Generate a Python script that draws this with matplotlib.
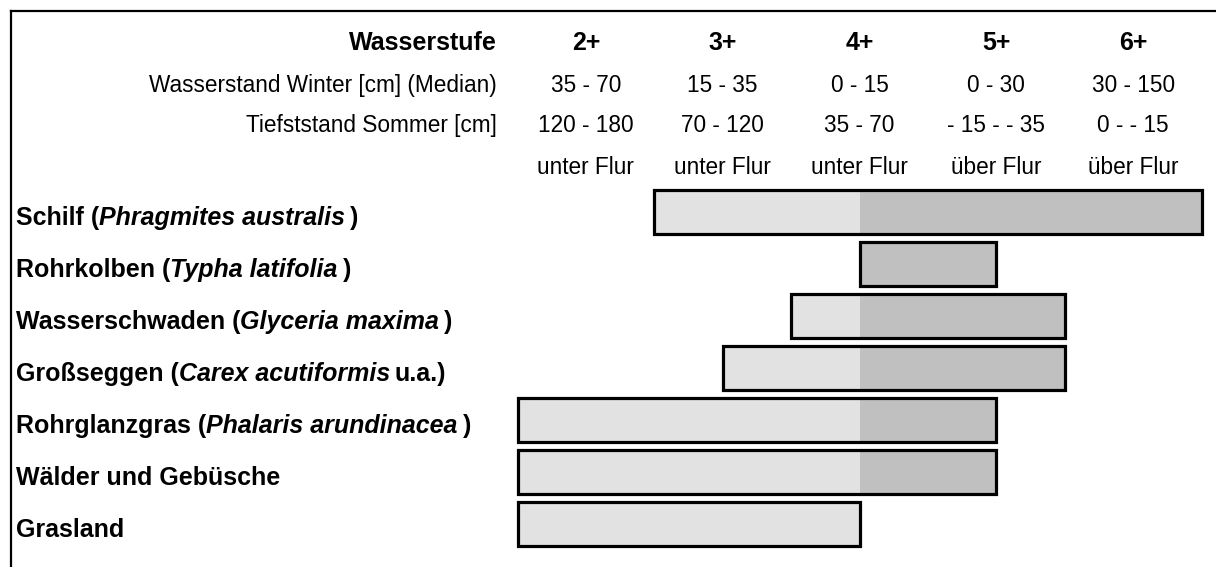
import matplotlib
matplotlib.use("Agg")
import matplotlib.pyplot as plt

plt.rcParams['font.family'] = ['Liberation Sans', 'DejaVu Sans']

# Kopfzeilen
stufen = ["2+", "3+", "4+", "5+", "6+"]
winter = ["35 - 70", "15 - 35", "0 - 15", "0 - 30", "30 - 150"]
sommer = ["120 - 180", "70 - 120", "35 - 70", "- 15 - - 35", "0 - - 15"]
flur = ["unter Flur", "unter Flur", "unter Flur", "über Flur", "über Flur"]
zeilen_titel = ["Wasserstufe", "Wasserstand Winter [cm] (Median)", "Tiefststand Sommer [cm]"]

# Vegetation: (normal, kursiv, rest)
arten = [
    ("Schilf (", "Phragmites australis", ")"),
    ("Rohrkolben (", "Typha latifolia", ")"),
    ("Wasserschwaden (", "Glyceria maxima", ")"),
    ("Großseggen (", "Carex acutiformis", "u.a.)"),
    ("Rohrglanzgras (", "Phalaris arundinacea", ")"),
    ("Wälder und Gebüsche", "", ""),
    ("Grasland", "", ""),
]
von = [3.0, 4.5, 4.0, 3.5, 2.0, 2.0, 2.0]    # Wasserstufe Beginn
bis = [7.0, 5.5, 6.0, 6.0, 5.5, 5.5, 4.5]    # Wasserstufe Ende
grenze = 4.5  # Wechsel hell -> dunkel

HELL = "#e2e2e2"
DUNKEL = "#c0c0c0"
FS = 16.3     # normal
FSB = 18      # fett

fig = plt.figure(figsize=(12.16, 5.67), dpi=100)
ax = fig.add_axes([0, 0, 1, 1])
px = 136.8  # pixel pro Stufe
ax.set_xlim(2 - 517.5 / px, 2 + (1216 - 517.5) / px)
ax.set_ylim((567 - 212) / 52, -212 / 52)
ax.axis("off")

# Rahmen oben + links
ax.plot([11 / 1216, 1], [1 - 11 / 567, 1 - 11 / 567], color="black", lw=1.6,
        transform=ax.transAxes, clip_on=False)
ax.plot([11 / 1216, 11 / 1216], [0, 1 - 11 / 567], color="black", lw=1.6,
        transform=ax.transAxes, clip_on=False)

# Kopf
kopf_y = [-3.25, -2.44, -1.67, -0.85]
titel_x = 2 + (497 - 517.5) / px
ax.text(titel_x, kopf_y[0], zeilen_titel[0], ha="right", va="center", fontsize=FSB, fontweight="bold")
ax.text(titel_x, kopf_y[1], zeilen_titel[1], ha="right", va="center", fontsize=FS)
ax.text(titel_x, kopf_y[2], zeilen_titel[2], ha="right", va="center", fontsize=FS)
for i in range(len(stufen)):
    xc = 2.5 + i
    ax.text(xc, kopf_y[0], stufen[i], ha="center", va="center", fontsize=FSB, fontweight="bold")
    ax.text(xc, kopf_y[1], winter[i], ha="center", va="center", fontsize=FS)
    ax.text(xc, kopf_y[2], sommer[i], ha="center", va="center", fontsize=FS)
    ax.text(xc, kopf_y[3], flur[i], ha="center", va="center", fontsize=FS)

# Balken
h = 0.83
for r in range(len(arten)):
    if von[r] < grenze:
        ax.barh(r, min(bis[r], grenze) - von[r], left=von[r], height=h, color=HELL, edgecolor="none")
    if bis[r] > grenze:
        a = max(von[r], grenze)
        ax.barh(r, bis[r] - a, left=a, height=h, color=DUNKEL, edgecolor="none")
    ax.barh(r, bis[r] - von[r], left=von[r], height=h, fill=False, edgecolor="black", linewidth=2.3)

# Beschriftung links (fett, Artname fett-kursiv)
lab_x = 2 + (16 - 517.5) / px
for r, (a, b, c) in enumerate(arten):
    t = ax.text(lab_x, r + 0.12, a, ha="left", va="center", fontsize=FSB, fontweight="bold")
    if b:
        t = ax.annotate(b, xy=(1, 0), xycoords=t, ha="left", va="bottom", fontsize=FSB,
                        fontweight="bold", fontstyle="italic")
        t = ax.annotate(c, xy=(1, 0), xycoords=t, xytext=(3.5, 0), textcoords="offset points",
                        ha="left", va="bottom", fontsize=FSB, fontweight="bold")

fig.savefig("out.png", dpi=100)
